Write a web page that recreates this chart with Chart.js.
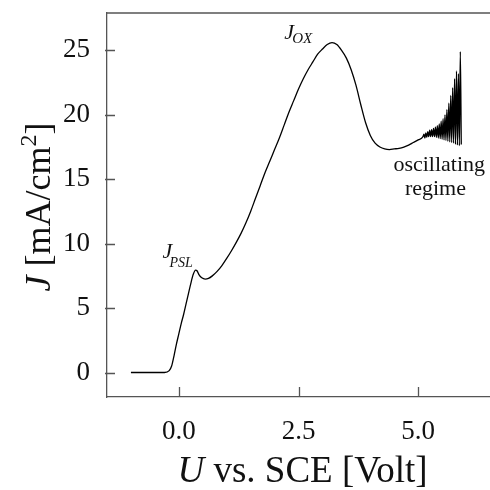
<!DOCTYPE html>
<html>
<head>
<meta charset="utf-8">
<script src="https://cdn.jsdelivr.net/npm/chart.js@4.4.0/dist/chart.umd.min.js"></script>
<style>
  html, body { margin: 0; padding: 0; background: #fff; }
  #wrap { width: 490px; height: 490px; }
</style>
</head>
<body>
<div id="wrap"><canvas id="ivChart" width="490" height="490"></canvas></div>
<script>
// U vs. SCE [Volt]
const voltage = [
  -1.0, -0.6, -0.3, -0.2, -0.15, -0.1, -0.05, 0.0, 0.05, 0.1,
  0.15, 0.2, 0.25, 0.3, 0.35, 0.38, 0.42, 0.48, 0.55, 0.62,
  0.7, 0.8, 0.9, 1.0, 1.1, 1.2, 1.3, 1.4, 1.5, 1.6,
  1.7, 1.8, 1.9, 2.0, 2.1, 2.2, 2.3, 2.4, 2.5, 2.6,
  2.7, 2.8, 2.9, 3.0, 3.1, 3.2, 3.3, 3.4, 3.5, 3.6,
  3.7, 3.8, 3.9, 4.0, 4.1, 4.2, 4.3, 4.4, 4.5, 4.6,
  4.7, 4.8, 4.9, 5.0, 5.1, 5.12, 5.14, 5.16, 5.18, 5.2,
  5.22, 5.24, 5.26, 5.28, 5.3, 5.32, 5.34, 5.36, 5.38, 5.4,
  5.42, 5.44, 5.46, 5.48, 5.5, 5.52, 5.54, 5.56, 5.58, 5.6,
  5.62, 5.64, 5.66, 5.68, 5.7, 5.72, 5.74, 5.76, 5.78, 5.8,
  5.82, 5.84, 5.86, 5.88, 5.9
];
// J [mA/cm2]
const current = [
  0, 0, 0, 0.15, 0.5, 1.3, 2.2, 3.0, 3.8, 4.5,
  5.3, 6.1, 6.9, 7.6, 7.95, 7.9, 7.6, 7.35, 7.25, 7.3,
  7.5, 7.85, 8.3, 8.85, 9.45, 10.1, 10.8, 11.6, 12.5, 13.5,
  14.5, 15.5, 16.4, 17.3, 18.2, 19.2, 20.2, 21.1, 22.0, 22.8,
  23.5, 24.1, 24.7, 25.1, 25.45, 25.6, 25.45, 25.0, 24.4, 23.5,
  22.3, 20.8, 19.4, 18.4, 17.8, 17.5, 17.35, 17.3, 17.35, 17.4,
  17.5, 17.65, 17.85, 18.05, 18.3, 18.5, 18.2, 18.6, 18.25, 18.7,
  18.3, 18.8, 18.3, 18.85, 18.3, 18.95, 18.3, 19.05, 18.25, 19.15,
  18.2, 19.3, 18.15, 19.5, 18.1, 19.7, 18.05, 20.0, 18.0, 20.4,
  17.95, 20.9, 17.9, 21.5, 17.85, 22.1, 17.8, 22.8, 17.7, 23.4,
  17.65, 23.2, 17.6, 24.9, 17.7
];
const xTicks = [0, 2.5, 5];
const yTicks = [0, 5, 10, 15, 20, 25];

const serif = '"Liberation Serif", "Times New Roman", serif';
const axisColor = "#555";

// draws text pieces with different fonts one after another
const drawRuns = (ctx, runs, x, y) => {
  let total = 0;
  runs.forEach((r) => {
    ctx.font = r.font;
    total += ctx.measureText(r.text).width;
  });
  let cx = x - total / 2;
  runs.forEach((r) => {
    ctx.font = r.font;
    ctx.fillText(r.text, cx, y + (r.dy || 0));
    cx += ctx.measureText(r.text).width;
  });
};

const extras = {
  id: "extras",
  afterDraw(chart) {
    const { ctx, chartArea, scales } = chart;
    const xs = scales.x;
    const ys = scales.y;
    ctx.save();

    // top frame line + tick marks
    ctx.strokeStyle = axisColor;
    ctx.lineWidth = 1.3;
    ctx.beginPath();
    ctx.moveTo(chartArea.left, chartArea.top);
    ctx.lineTo(chartArea.right, chartArea.top);
    yTicks.forEach((v) => {
      const py = Math.round(ys.getPixelForValue(v)) + 0.5;
      ctx.moveTo(chartArea.left - 2, py);
      ctx.lineTo(chartArea.left + 8, py);
    });
    xTicks.forEach((v) => {
      const px = Math.round(xs.getPixelForValue(v)) + 0.5;
      ctx.moveTo(px, chartArea.bottom);
      ctx.lineTo(px, chartArea.bottom - 10);
    });
    ctx.stroke();

    ctx.fillStyle = "#111";
    ctx.textBaseline = "alphabetic";

    // axis titles
    drawRuns(ctx, [
      { text: "U", font: "italic 37px " + serif },
      { text: " vs. SCE [Volt]", font: "37px " + serif },
    ], (chartArea.left + chartArea.right) / 2 + 4, 482);

    ctx.save();
    ctx.translate(50, (chartArea.top + chartArea.bottom) / 2 + 2);
    ctx.rotate(-Math.PI / 2);
    drawRuns(ctx, [
      { text: "J", font: "italic 36px " + serif },
      { text: " [mA/cm", font: "36px " + serif },
      { text: "2", font: "24px " + serif, dy: -14 },
      { text: "]", font: "36px " + serif },
    ], 0, 0);
    ctx.restore();

    // annotations
    ctx.textAlign = "left";
    const psx = xs.getPixelForValue(-0.34);
    const psy = ys.getPixelForValue(8.9);
    ctx.font = "italic 22px " + serif;
    ctx.fillText("J", psx, psy);
    ctx.font = "italic 14px " + serif;
    ctx.fillText("PSL", psx + 7, psy + 9);

    const oxx = xs.getPixelForValue(2.2);
    const oxy = ys.getPixelForValue(25.9);
    ctx.font = "italic 22px " + serif;
    ctx.fillText("J", oxx, oxy);
    ctx.font = "italic 15px " + serif;
    ctx.fillText("OX", oxx + 8, oxy + 4);

    ctx.textAlign = "center";
    ctx.font = "22px " + serif;
    ctx.fillText("oscillating", xs.getPixelForValue(5.44), ys.getPixelForValue(15.6));
    ctx.fillText("regime", xs.getPixelForValue(5.36), ys.getPixelForValue(13.8));

    ctx.restore();
  },
};

const points = voltage.map((u, i) => ({ x: u, y: current[i] }));

new Chart(document.getElementById("ivChart"), {
  type: "scatter",
  data: {
    datasets: [
      {
        label: "J",
        data: points,
        showLine: true,
        borderColor: "#000",
        borderWidth: 1.3,
        pointRadius: 0,
        cubicInterpolationMode: "monotone",
      },
    ],
  },
  options: {
    responsive: false,
    animation: false,
    layout: { padding: { top: 13, right: 0, left: 0, bottom: 0 } },
    plugins: { legend: { display: false }, tooltip: { enabled: false } },
    scales: {
      x: {
        type: "linear",
        min: -1.5,
        max: 6.5,
        afterBuildTicks: (scale) => {
          scale.ticks = xTicks.map((v) => ({ value: v }));
        },
        afterFit: (scale) => {
          scale.height = 93;
          scale.paddingLeft = 0;
          scale.paddingRight = 0;
        },
        grid: { display: false, drawTicks: false },
        border: { display: true, color: axisColor, width: 1.3 },
        ticks: {
          padding: 19,
          color: "#111",
          font: { family: serif, size: 27 },
          callback: (v) => v.toFixed(1),
        },
      },
      y: {
        type: "linear",
        min: -1.9,
        max: 27.9,
        afterBuildTicks: (scale) => {
          scale.ticks = yTicks.map((v) => ({ value: v }));
        },
        afterFit: (scale) => {
          scale.width = 107;
          scale.paddingTop = 0;
          scale.paddingBottom = 0;
        },
        grid: { display: false, drawTicks: false },
        border: { display: true, color: axisColor, width: 1.3 },
        ticks: {
          padding: 17,
          color: "#111",
          font: { family: serif, size: 27 },
        },
      },
    },
  },
  plugins: [extras],
});
</script>
</body>
</html>
